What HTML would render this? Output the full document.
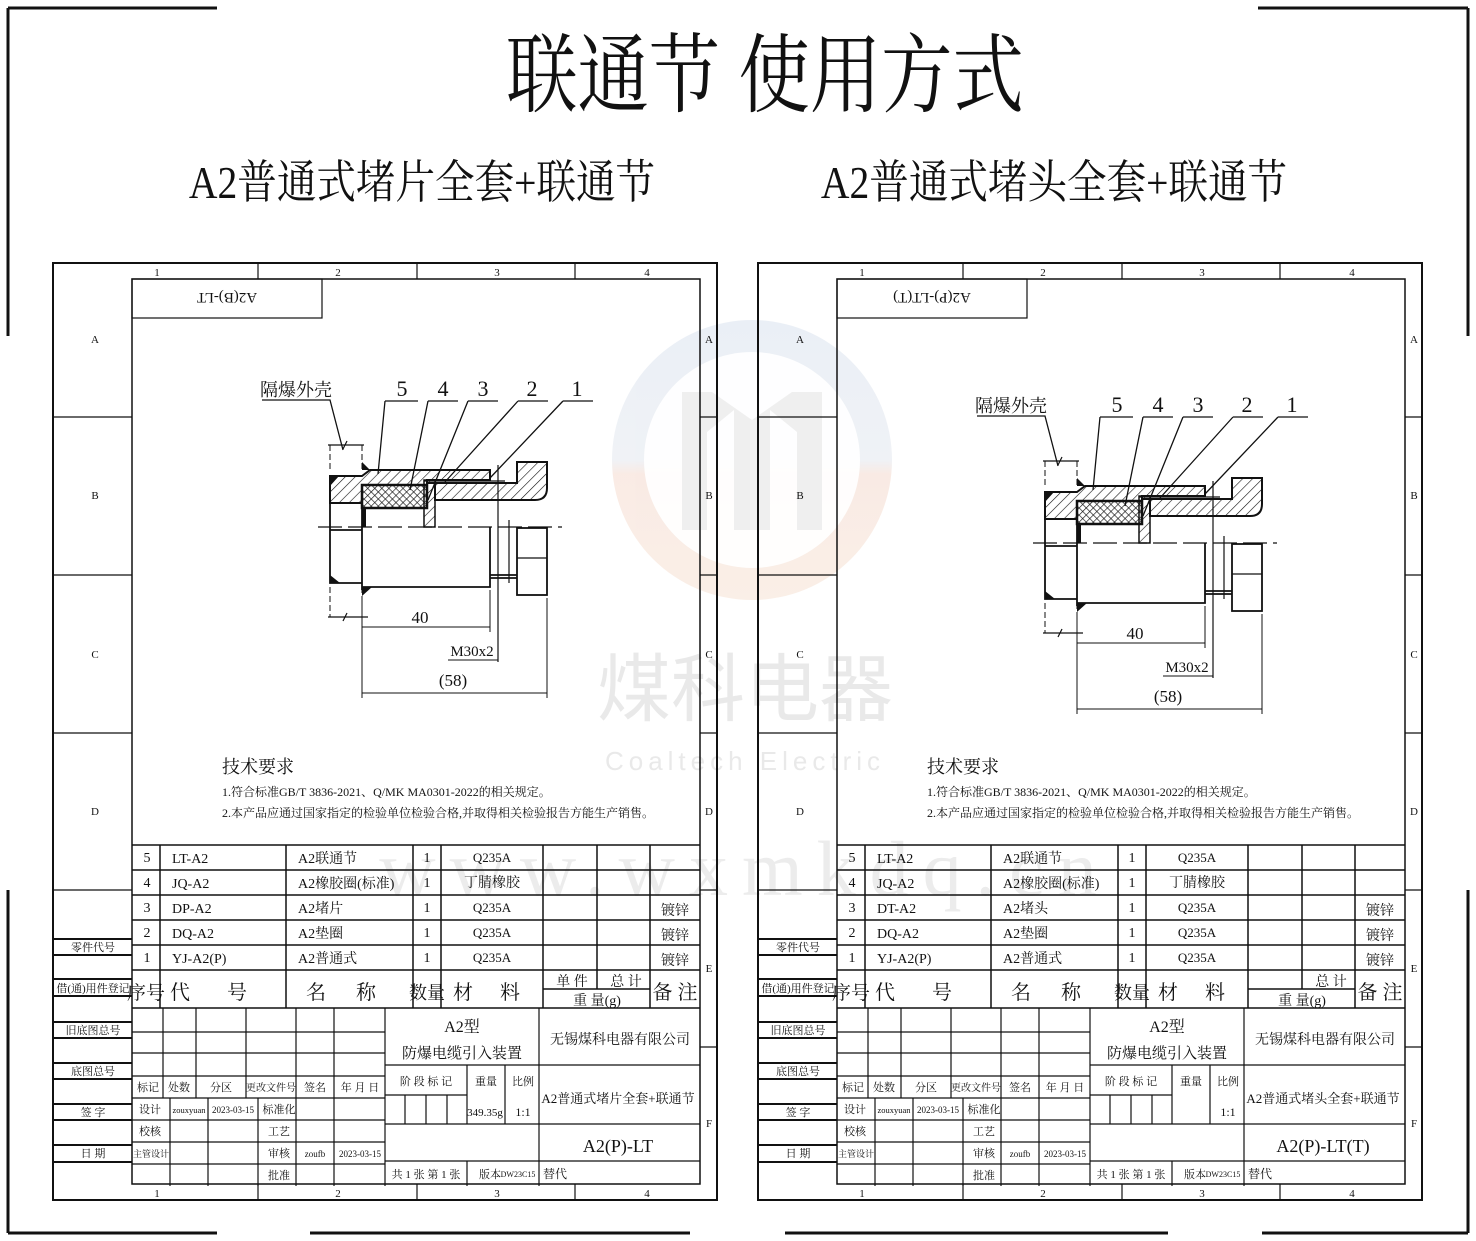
<!DOCTYPE html>
<html><head><meta charset="utf-8"><style>
html,body{margin:0;padding:0;background:#fff}
svg{display:block}
text{font-family:"Liberation Serif","Noto Serif CJK SC",serif;fill:#111}
.s{font-family:"Liberation Sans","Noto Sans CJK SC",sans-serif}
</style></head><body>
<svg width="1476" height="1241" viewBox="0 0 1476 1241" xmlns="http://www.w3.org/2000/svg">
<defs>
<pattern id="h" width="7" height="7" patternUnits="userSpaceOnUse" patternTransform="rotate(45)"><line x1="0" y1="0" x2="0" y2="7" stroke="#111" stroke-width="1.2"/></pattern>
<pattern id="x" width="5" height="5" patternUnits="userSpaceOnUse" patternTransform="rotate(45)"><rect width="5" height="5" fill="#fff"/><line x1="0" y1="0" x2="0" y2="5" stroke="#111" stroke-width="1.3"/><line x1="0" y1="0" x2="5" y2="0" stroke="#111" stroke-width="1.3"/></pattern>
<linearGradient id="wg" x1="0" y1="0" x2="0" y2="1"><stop offset="0" stop-color="#e6ecf4"/><stop offset="0.5" stop-color="#eceff4"/><stop offset="0.55" stop-color="#f8e6de"/><stop offset="1" stop-color="#f9ece2"/></linearGradient>

<g id="frame" fill="none" stroke="#111">
 <rect x="53" y="263" width="664" height="937" stroke-width="2"/>
 <rect x="132" y="279" width="568" height="905" stroke-width="1.5"/>
 <path d="M258 263V279M417 263V279M575 263V279M258 1184V1200M417 1184V1200M575 1184V1200" stroke-width="1.2"/>
 <path d="M53 417H132M53 575H132M53 733H132M53 890H132M700 417H717M700 575H717M700 733H717M700 890H717M700 1047H717" stroke-width="1.2"/>
 <path d="M53 939H132M53 955H132M53 979H132M53 996H132M53 1022H132M53 1038H132M53 1063H132M53 1079H132M53 1104H132M53 1120H132M53 1145H132M53 1162H132" stroke-width="2"/>
 <rect x="132" y="279" width="190" height="39" stroke-width="1.2"/>
 <path d="M132 845H700M132 870H700M132 895H700M132 920H700M132 945H700M132 970H700M132 1008H700M543 989H650" stroke-width="1.5"/>
 <path d="M160 845V1008M286 845V1008M413 845V1008M441 845V1008M543 845V1008M597 845V989M650 845V1008" stroke-width="1.5"/>
 <path d="M132 1032H385M132 1053H385M132 1076H385M132 1098H385M132 1120H385M132 1142H385M132 1164H385" stroke-width="1.2"/>
 <path d="M163 1008V1098M196 1008V1098M246 1008V1098M296 1008V1186M334 1008V1186M385 1008V1186M170 1098V1186M208 1098V1186M258 1098V1186" stroke-width="1.2"/>
 <path d="M385 1065H700M385 1095H467M385 1124H539M385 1161H700M539 1124H700M539 1008V1186M405 1095V1124M426 1095V1124M447 1095V1124M467 1065V1124M505 1065V1124M467 1161V1186" stroke-width="1.2"/>
</g>

<g id="fixed" font-size="11" text-anchor="middle">
 <text x="157" y="276">1</text><text x="338" y="276">2</text><text x="497" y="276">3</text><text x="647" y="276">4</text>
 <text x="157" y="1197">1</text><text x="338" y="1197">2</text><text x="497" y="1197">3</text><text x="647" y="1197">4</text>
 <text x="95" y="343">A</text><text x="95" y="499">B</text><text x="95" y="658">C</text><text x="95" y="815">D</text>
 <text x="709" y="343">A</text><text x="709" y="499">B</text><text x="709" y="658">C</text><text x="709" y="815">D</text><text x="709" y="972">E</text><text x="709" y="1127">F</text>
 <text x="93" y="951">零件代号</text><text x="93" y="992">借(通)用件登记</text><text x="93" y="1034">旧底图总号</text><text x="93" y="1075">底图总号</text><text x="93" y="1116">签  字</text><text x="93" y="1157">日  期</text>
 <text x="147" y="862" font-size="14">5</text><text x="147" y="887" font-size="14">4</text><text x="147" y="912" font-size="14">3</text><text x="147" y="937" font-size="14">2</text><text x="147" y="962" font-size="14">1</text>
 <text x="427" y="862" font-size="14">1</text><text x="427" y="887" font-size="14">1</text><text x="427" y="912" font-size="14">1</text><text x="427" y="937" font-size="14">1</text><text x="427" y="962" font-size="14">1</text>
 <text x="492" y="862" font-size="13">Q235A</text><text x="492" y="887" font-size="14">丁腈橡胶</text><text x="492" y="912" font-size="13">Q235A</text><text x="492" y="937" font-size="13">Q235A</text><text x="492" y="962" font-size="13">Q235A</text>
 <text x="675" y="915" font-size="14">镀锌</text><text x="675" y="940" font-size="14">镀锌</text><text x="675" y="965" font-size="14">镀锌</text>
 <text x="146" y="999" font-size="19">序号</text><text x="180" y="999" font-size="20">代</text><text x="237" y="999" font-size="20">号</text>
 <text x="316" y="999" font-size="20">名</text><text x="366" y="999" font-size="20">称</text><text x="427" y="999" font-size="18">数量</text>
 <text x="463" y="999" font-size="20">材</text><text x="510" y="999" font-size="20">料</text>
 <text x="626" y="986" font-size="14">总 计</text><text x="597" y="1005" font-size="14">重 量(g)</text><text x="675" y="999" font-size="20">备 注</text>
 <text x="462" y="1032" font-size="16">A2型</text><text x="462" y="1058" font-size="15">防爆电缆引入装置</text>
 <text x="620" y="1044" font-size="14">无锡煤科电器有限公司</text>
 <text x="426" y="1085" font-size="11">阶 段 标 记</text><text x="486" y="1085" font-size="11">重量</text><text x="523" y="1085" font-size="11">比例</text>
 <text x="523" y="1116" font-size="12">1:1</text>
 <text x="148" y="1091">标记</text><text x="179" y="1091">处数</text><text x="221" y="1091">分区</text><text x="271" y="1091" font-size="10">更改文件号</text><text x="315" y="1091">签名</text><text x="360" y="1091">年 月 日</text>
 <text x="150" y="1113">设计</text><text x="189" y="1113" font-size="8.5">zouxyuan</text><text x="233" y="1113" font-size="9">2023-03-15</text><text x="279" y="1113">标准化</text>
 <text x="150" y="1135">校核</text><text x="279" y="1135">工艺</text>
 <text x="151" y="1157" font-size="9">主管设计</text><text x="279" y="1157">审核</text><text x="315" y="1157" font-size="9">zoufb</text><text x="360" y="1157" font-size="9">2023-03-15</text>
 <text x="279" y="1179">批准</text>
 <text x="426" y="1178">共 1 张  第 1 张</text><text x="490" y="1178">版本</text><text x="518" y="1177" font-size="8">DW23C15</text><text x="555" y="1178" font-size="12">替代</text>
</g>

<g id="dwg">
 <line x1="318" y1="527" x2="562" y2="527" stroke="#111" stroke-width="1.2" stroke-dasharray="24,6"/>
 <path d="M330 445V470M362 445V470M330 587V617M362 587V617" stroke="#111" stroke-width="1" stroke-dasharray="6,3"/>
 <path d="M328 445H364M343 449L347 441M328 617H368M343 621L347 613" stroke="#111" stroke-width="1.2" fill="none"/>
 <polygon points="330,476 362,476 370,470 490,470 490,480 427,480 427,485 362,485 362,503 330,503" fill="url(#h)" stroke="#111" stroke-width="2"/>
 <polygon points="330,476 339,476 330,486" fill="#111"/>
 <polygon points="362,470 370,470 362,462" fill="#111"/>
 <rect x="362" y="485" width="65" height="23" fill="url(#x)" stroke="#111" stroke-width="2.5"/>
 <path d="M364 508V527" stroke="#111" stroke-width="4"/>
 <rect x="424" y="480" width="11" height="47" fill="url(#h)" stroke="#111" stroke-width="1.5"/>
 <path d="M427 483H517V462H547V488Q547 500 535 500H435V483Z" fill="url(#h)" stroke="#111" stroke-width="2"/>
 <path d="M424 481H505" stroke="#111" stroke-width="1.2"/>
 <path d="M330 503V583H362M330 530H362M362 503V590M362 587H490V527M490 575H517M490 578H517" stroke="#111" stroke-width="1.8" fill="none"/>
 <polygon points="330,575 340,583 330,583" fill="#111"/>
 <polygon points="362,587 372,587 362,596" fill="#111"/>
 <rect x="517" y="528" width="30" height="67" fill="none" stroke="#111" stroke-width="1.8"/>
 <path d="M517 558H547M509 520V583M498 465V662" stroke="#111" stroke-width="1.2" fill="none"/>
 <path d="M362 600V698M547 598V698M490 590V632M362 627H490M362 693H547M448 660H498" stroke="#111" stroke-width="1" fill="none"/>
 <text x="420" y="623" font-size="17" text-anchor="middle">40</text>
 <text x="472" y="656" font-size="15" text-anchor="middle">M30x2</text>
 <text x="453" y="686" font-size="17" text-anchor="middle">(58)</text>
 <g stroke="#111" stroke-width="1.3" fill="none">
  <path d="M262 400H330L343 450M385 401H418M385 401L378 474M428 401H458M428 401L410 490M468 401H498M468 401L428 500M518 401H548M518 401L445 482M563 401H593M563 401L490 478"/>
 </g>
 <g font-size="22" text-anchor="middle"><text x="402" y="396">5</text><text x="443" y="396">4</text><text x="483" y="396">3</text><text x="532" y="396">2</text><text x="577" y="396">1</text></g>
 <text x="296" y="396" font-size="18" text-anchor="middle">隔爆外壳</text>
</g>
</defs>

<!-- watermark -->
<g opacity="0.8">
 <circle cx="752" cy="460" r="140" fill="url(#wg)"/>
 <circle cx="752" cy="460" r="108" fill="#fff" opacity="0.92"/>
 <path d="M682 392H712L752 420L792 392H822V530H797V432L770 410V530H734V410L707 432V530H682Z" fill="#ececec"/>
 <text x="745" y="715" font-size="74" text-anchor="middle" class="s" style="fill:#e4e4e4">煤科电器</text>
 <text x="745" y="770" font-size="26" text-anchor="middle" class="s" style="fill:#e4e4e4;letter-spacing:5px">Coaltech Electric</text>
 <text x="745" y="895" font-size="78" text-anchor="middle" style="fill:#e8e8e8;letter-spacing:14px">www.wxmkdq.cn</text>
</g>

<path d="M8 8H217M1258 8H1468M8 8V336M1468 8V336M8 890V1233M1468 890V1233M8 1233H217M310 1233H690M785 1233H1168M1262 1233H1468" stroke="#111" stroke-width="3" fill="none"/>

<text transform="translate(765,105) scale(0.83,1)" font-size="86" text-anchor="middle" style="font-family:'Noto Serif CJK SC',serif">联通节 使用方式</text>
<text transform="translate(422,198) scale(0.86,1)" font-size="46" text-anchor="middle">A2普通式堵片全套+联通节</text>
<text transform="translate(1054,198) scale(0.86,1)" font-size="46" text-anchor="middle">A2普通式堵头全套+联通节</text>

<use href="#frame"/><use href="#fixed"/><use href="#dwg"/>
<text transform="translate(227,298) rotate(180)" font-size="15" text-anchor="middle" dy="5">A2(B)-LT</text>
<g font-size="14">
 <text x="172" y="863">LT-A2</text><text x="172" y="888">JQ-A2</text><text x="172" y="913">DP-A2</text><text x="172" y="938">DQ-A2</text><text x="172" y="963">YJ-A2(P)</text>
 <text x="298" y="863">A2联通节</text><text x="298" y="888">A2橡胶圈(标准)</text><text x="298" y="913">A2堵片</text><text x="298" y="938">A2垫圈</text><text x="298" y="963">A2普通式</text>
</g>
<text x="572" y="986" font-size="14" text-anchor="middle">单 件</text>
<text x="485" y="1116" font-size="11" text-anchor="middle">349.35g</text>
<text x="618" y="1103" font-size="13" text-anchor="middle">A2普通式堵片全套+联通节</text>
<text x="618" y="1152" font-size="18" text-anchor="middle">A2(P)-LT</text>
<text x="222" y="773" font-size="18">技术要求</text>
<text x="222" y="796" font-size="12">1.符合标准GB/T 3836-2021、Q/MK MA0301-2022的相关规定。</text>
<text x="222" y="817" font-size="12">2.本产品应通过国家指定的检验单位检验合格,并取得相关检验报告方能生产销售。</text>

<g transform="translate(705,0)">
 <use href="#frame"/><use href="#fixed"/>
 <text transform="translate(227,298) rotate(180)" font-size="15" text-anchor="middle" dy="5">A2(P)-LT(T)</text>
 <g font-size="14">
  <text x="172" y="863">LT-A2</text><text x="172" y="888">JQ-A2</text><text x="172" y="913">DT-A2</text><text x="172" y="938">DQ-A2</text><text x="172" y="963">YJ-A2(P)</text>
  <text x="298" y="863">A2联通节</text><text x="298" y="888">A2橡胶圈(标准)</text><text x="298" y="913">A2堵头</text><text x="298" y="938">A2垫圈</text><text x="298" y="963">A2普通式</text>
 </g>
 <text x="618" y="1103" font-size="13" text-anchor="middle">A2普通式堵头全套+联通节</text>
 <text x="618" y="1152" font-size="18" text-anchor="middle">A2(P)-LT(T)</text>
 <text x="222" y="773" font-size="18">技术要求</text>
 <text x="222" y="796" font-size="12">1.符合标准GB/T 3836-2021、Q/MK MA0301-2022的相关规定。</text>
 <text x="222" y="817" font-size="12">2.本产品应通过国家指定的检验单位检验合格,并取得相关检验报告方能生产销售。</text>
</g>
<g transform="translate(715,16)"><use href="#dwg"/></g>
</svg>
</body></html>
